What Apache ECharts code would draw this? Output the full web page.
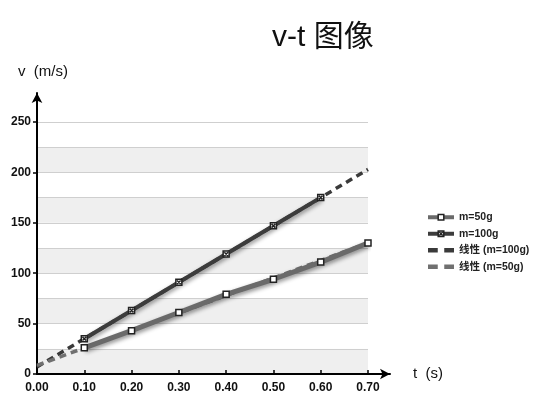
<!DOCTYPE html>
<html>
<head>
<meta charset="utf-8">
<script src="https://cdn.jsdelivr.net/npm/echarts@6/dist/echarts.min.js"></script>
<style>
  html, body { margin: 0; padding: 0; background: #fff; }
  #chart { width: 538px; height: 414px; }
</style>
</head>
<body>
<div id="chart"></div>
<script>
// time points (s)
const times = [0.1, 0.2, 0.3, 0.4, 0.5, 0.6, 0.7]
// measured speeds (m/s)
const v100 = [35, 63, 91, 119, 147, 175]
const v50 = [26, 43, 61, 79, 94, 111, 130]
// linear trend lines, endpoints at t = 0 and t = 0.7
const trendT = [0, 0.7]
const trend100 = [7, 203]
const trend50 = [8.5, 130]
const seriesNames = ['m=50g', 'm=100g', '线性 (m=100g)', '线性 (m=50g)']

const font = "'Liberation Sans', 'Noto Sans CJK SC', sans-serif"
const pairs = (xs, ys) => ys.map((y, i) => [xs[i], y])
const dashIcon = 'path://M0,0H9V4H0Z M15,0H24V4H15Z'
const crossBox = 'path://M0,0H10V10H0Z M2,2L8,8 M8,2L2,8'
const markerStyle = { color: '#fff', borderColor: '#222', borderWidth: 1.5 }

const myChart = echarts.init(document.getElementById('chart'))

const shadow = {
  shadowColor: 'rgba(0,0,0,0.45)',
  shadowBlur: 4,
  shadowOffsetX: 1,
  shadowOffsetY: 2,
}

myChart.setOption({
  animation: false,
  textStyle: { fontFamily: font },
  title: {
    text: 'v-t 图像',
    left: 267,
    top: 18,
    textStyle: { fontFamily: font, fontSize: 30, fontWeight: 'normal', color: '#111' },
  },
  legend: {
    data: [
      { name: seriesNames[0], itemStyle: markerStyle, lineStyle: { width: 4, color: '#6a6a6a' } },
      { name: seriesNames[1], itemStyle: markerStyle, lineStyle: { width: 4, color: '#3c3c3c' } },
      { name: seriesNames[2], icon: dashIcon, itemStyle: { color: '#3a3a3a' } },
      { name: seriesNames[3], icon: dashIcon, itemStyle: { color: '#707070' } },
    ],
    orient: 'vertical',
    left: 421,
    top: 207,
    itemWidth: 26,
    itemHeight: 7,
    itemGap: 6,
    textStyle: { fontFamily: font, fontSize: 10.5, fontWeight: 'bold', color: '#222' },
  },
  graphic: [
    { type: 'text', left: 18, top: 64, style: { text: 'v  (m/s)', font: '15px ' + font, fill: '#111' } },
    { type: 'text', left: 413, top: 366, style: { text: 't  (s)', font: '15px ' + font, fill: '#111' } },
  ],
  grid: [
    { left: 37, right: 170, top: 122, bottom: 40 },
    { left: 37, right: 148, top: 93, bottom: 40 },
  ],
  xAxis: [
    {
      gridIndex: 0,
      type: 'value',
      min: 0,
      max: 0.7,
      interval: 0.1,
      axisLine: { show: false },
      axisTick: { show: true, inside: true, length: 4, lineStyle: { color: '#000', width: 1.5 } },
      splitLine: { show: false },
      axisLabel: {
        formatter: (v) => v.toFixed(2),
        fontFamily: font,
        fontSize: 12,
        fontWeight: 'bold',
        color: '#111',
        margin: 8,
      },
    },
    {
      gridIndex: 1,
      type: 'value',
      min: 0,
      max: 1,
      axisLine: {
        show: true,
        symbol: ['none', 'arrow'],
        symbolSize: [8, 10],
        lineStyle: { color: '#000', width: 2 },
      },
      axisTick: { show: false },
      axisLabel: { show: false },
      splitLine: { show: false },
    },
  ],
  yAxis: [
    {
      gridIndex: 0,
      type: 'value',
      min: 0,
      max: 250,
      interval: 50,
      axisLine: { show: false },
      axisTick: { show: true, length: 4, lineStyle: { color: '#000', width: 1.5 } },
      splitLine: { show: false },
      axisLabel: {
        fontFamily: font,
        fontSize: 12,
        fontWeight: 'bold',
        color: '#111',
        margin: 6,
      },
    },
    {
      gridIndex: 0,
      type: 'value',
      min: 0,
      max: 250,
      interval: 25,
      axisLine: { show: false },
      axisTick: { show: false },
      axisLabel: { show: false },
      splitLine: { show: true, lineStyle: { color: '#cfcfcf', width: 1 } },
      splitArea: { show: true, areaStyle: { color: ['#efefef', '#ffffff'] } },
    },
    {
      gridIndex: 1,
      type: 'value',
      min: 0,
      max: 1,
      axisLine: {
        show: true,
        symbol: ['none', 'arrow'],
        symbolSize: [8, 10],
        lineStyle: { color: '#000', width: 2 },
      },
      axisTick: { show: false },
      axisLabel: { show: false },
      splitLine: { show: false },
    },
  ],
  series: [
    {
      name: seriesNames[0],
      type: 'line',
      xAxisIndex: 0,
      yAxisIndex: 0,
      z: 4,
      data: pairs(times, v50),
      symbol: 'rect',
      symbolSize: 6,
      itemStyle: markerStyle,
      lineStyle: Object.assign({ color: '#6a6a6a', width: 5 }, shadow),
    },
    {
      name: seriesNames[1],
      type: 'line',
      xAxisIndex: 0,
      yAxisIndex: 0,
      z: 4,
      data: pairs(times, v100),
      symbol: crossBox,
      symbolSize: 6,
      itemStyle: markerStyle,
      lineStyle: Object.assign({ color: '#3c3c3c', width: 4 }, shadow),
    },
    {
      name: seriesNames[2],
      type: 'line',
      xAxisIndex: 0,
      yAxisIndex: 0,
      z: 3,
      data: pairs(trendT, trend100),
      symbol: 'none',
      itemStyle: { color: '#3a3a3a' },
      lineStyle: { color: '#3a3a3a', width: 3.5, type: [7, 5] },
    },
    {
      name: seriesNames[3],
      type: 'line',
      xAxisIndex: 0,
      yAxisIndex: 0,
      z: 3,
      data: pairs(trendT, trend50),
      symbol: 'none',
      itemStyle: { color: '#707070' },
      lineStyle: { color: '#707070', width: 3.5, type: [7, 5] },
    },
  ],
})
</script>
</body>
</html>
